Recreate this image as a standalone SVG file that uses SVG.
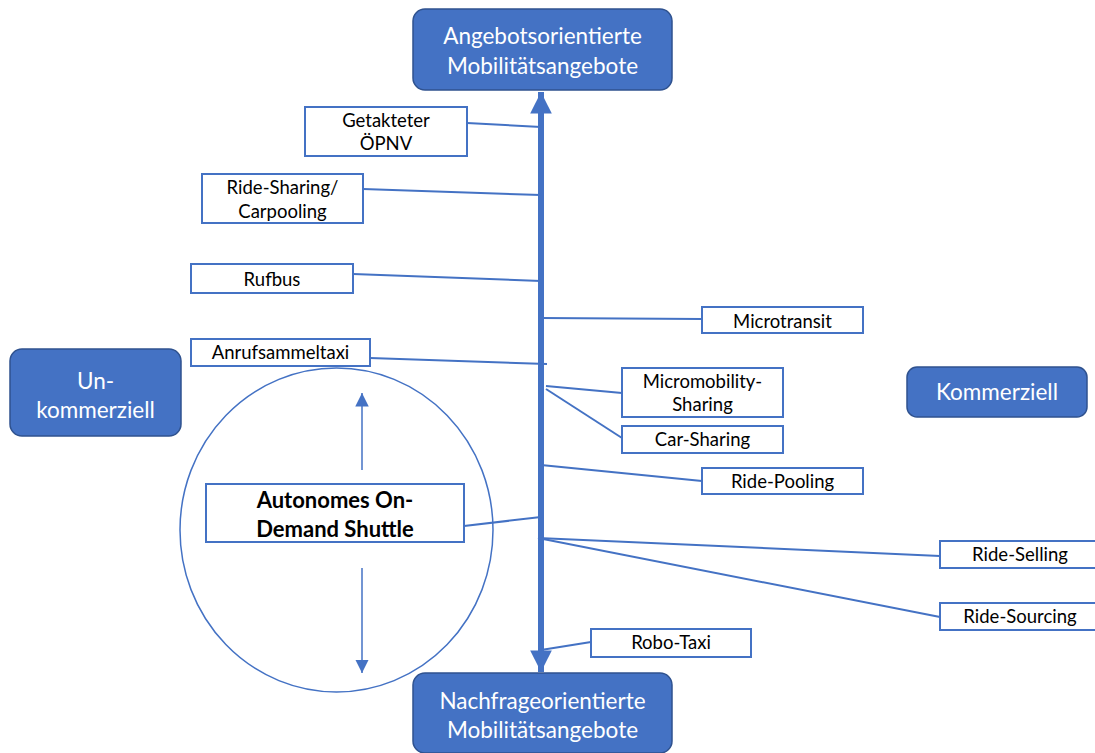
<svg xmlns="http://www.w3.org/2000/svg" width="1095" height="753" viewBox="0 0 1095 753">
  <style>
    .hub { fill: #4472C4; stroke: #2F528F; stroke-width: 1.5; }
    .hubtxt { fill: #FFFFFF; font-family: Lato, "Liberation Sans", sans-serif; font-size: 22.5px; text-anchor: middle; }
    .box { fill: #FFFFFF; stroke: #4472C4; stroke-width: 2; }
    .txt { fill: #000000; font-family: Lato, "Liberation Sans", sans-serif; font-size: 18.5px; text-anchor: middle; }
    .bold { font-size: 22px; font-weight: bold; }
    .link { stroke: #4472C4; stroke-width: 2; fill: none; }
    .axis { stroke: #4472C4; stroke-width: 6; fill: none; }
    .thin { stroke: #4472C4; stroke-width: 1.5; fill: none; }
  </style>
  <defs>
    <marker id="bigHead" viewBox="0 0 10 10" refX="10" refY="5" markerWidth="3.6" markerHeight="3.6" markerUnits="strokeWidth" orient="auto">
      <path d="M0,0 L10,5 L0,10 z" fill="#4472C4"/>
    </marker>
    <marker id="smallHead" viewBox="0 0 10 10" refX="10" refY="5" markerWidth="9" markerHeight="9" markerUnits="strokeWidth" orient="auto">
      <path d="M0,0 L10,5 L0,10 z" fill="#4472C4"/>
    </marker>
  </defs>

  <!-- connectors -->
  <g id="connectors">
    <line class="axis" x1="541" y1="380" x2="541" y2="92" marker-end="url(#bigHead)"/>
    <line class="axis" x1="541" y1="380" x2="541" y2="672" marker-end="url(#bigHead)"/>
    <line class="link" x1="467" y1="123" x2="541" y2="127"/>
    <line class="link" x1="363" y1="189" x2="541" y2="195"/>
    <line class="link" x1="353" y1="274" x2="541" y2="281"/>
    <line class="link" x1="370" y1="358" x2="547" y2="364"/>
    <line class="link" x1="541" y1="318" x2="702" y2="319"/>
    <line class="link" x1="546" y1="386" x2="622" y2="393"/>
    <line class="link" x1="546" y1="389" x2="622" y2="438"/>
    <line class="link" x1="541" y1="465" x2="702" y2="481"/>
    <line class="link" x1="464" y1="526" x2="541" y2="517"/>
    <line class="link" x1="538" y1="538" x2="940" y2="556"/>
    <line class="link" x1="538" y1="538" x2="940" y2="617"/>
    <line class="link" x1="541" y1="650" x2="591" y2="642"/>
    <line class="thin" x1="362" y1="470" x2="362" y2="393" marker-end="url(#smallHead)"/>
    <line class="thin" x1="362" y1="568" x2="362" y2="673" marker-end="url(#smallHead)"/>
  </g>

  <!-- shuttle scope circle -->
  <g id="scope">
    <ellipse cx="336.5" cy="530" rx="156.5" ry="162" class="thin" stroke-width="2"/>
  </g>

  <g id="angebot">
    <rect class="hub" x="413" y="9" width="259" height="81" rx="12"/>
    <text class="hubtxt" x="542.5" y="44">Angebotsorientierte</text>
    <text class="hubtxt" x="542.5" y="74">Mobilitätsangebote</text>
  </g>
  <g id="nachfrage">
    <rect class="hub" x="413" y="673" width="259" height="80" rx="12"/>
    <text class="hubtxt" x="542.5" y="709">Nachfrageorientierte</text>
    <text class="hubtxt" x="542.5" y="738">Mobilitätsangebote</text>
  </g>
  <g id="unkommerziell">
    <rect class="hub" x="10" y="349" width="171" height="87" rx="12"/>
    <text class="hubtxt" x="95.5" y="389">Un-</text>
    <text class="hubtxt" x="95.5" y="418">kommerziell</text>
  </g>
  <g id="kommerziell">
    <rect class="hub" x="907" y="367" width="180" height="50" rx="10"/>
    <text class="hubtxt" x="997" y="400">Kommerziell</text>
  </g>

  <g id="oepnv">
    <rect class="box" x="305" y="107" width="162" height="49"/>
    <text class="txt" x="386" y="127">Getakteter</text>
    <text class="txt" x="386" y="150">ÖPNV</text>
  </g>
  <g id="ridesharing">
    <rect class="box" x="202" y="174" width="161" height="49"/>
    <text class="txt" x="282.5" y="194">Ride-Sharing/</text>
    <text class="txt" x="282.5" y="218">Carpooling</text>
  </g>
  <g id="rufbus">
    <rect class="box" x="191" y="264" width="162" height="29"/>
    <text class="txt" x="272" y="286">Rufbus</text>
  </g>
  <g id="anrufsammeltaxi">
    <rect class="box" x="191" y="339" width="179" height="27"/>
    <text class="txt" x="280.5" y="359">Anrufsammeltaxi</text>
  </g>
  <g id="microtransit">
    <rect class="box" x="702" y="307" width="161" height="26"/>
    <text class="txt" x="782.5" y="328">Microtransit</text>
  </g>
  <g id="micromobility">
    <rect class="box" x="622" y="368" width="161" height="49"/>
    <text class="txt" x="702.5" y="388">Micromobility-</text>
    <text class="txt" x="702.5" y="411">Sharing</text>
  </g>
  <g id="carsharing">
    <rect class="box" x="622" y="426" width="161" height="27"/>
    <text class="txt" x="702.5" y="446">Car-Sharing</text>
  </g>
  <g id="ridepooling">
    <rect class="box" x="702" y="468" width="161" height="26"/>
    <text class="txt" x="782.5" y="488">Ride-Pooling</text>
  </g>
  <g id="shuttle">
    <rect class="box" x="206" y="484" width="258" height="58"/>
    <text class="txt bold" x="335" y="508">Autonomes On-</text>
    <text class="txt bold" x="335" y="537">Demand Shuttle</text>
  </g>
  <g id="rideselling">
    <rect class="box" x="940" y="541" width="170" height="27"/>
    <text class="txt" x="1020" y="561">Ride-Selling</text>
  </g>
  <g id="ridesourcing">
    <rect class="box" x="940" y="603" width="170" height="27"/>
    <text class="txt" x="1020" y="623">Ride-Sourcing</text>
  </g>
  <g id="robotaxi">
    <rect class="box" x="591" y="629" width="160" height="28"/>
    <text class="txt" x="671" y="649">Robo-Taxi</text>
  </g>
</svg>
